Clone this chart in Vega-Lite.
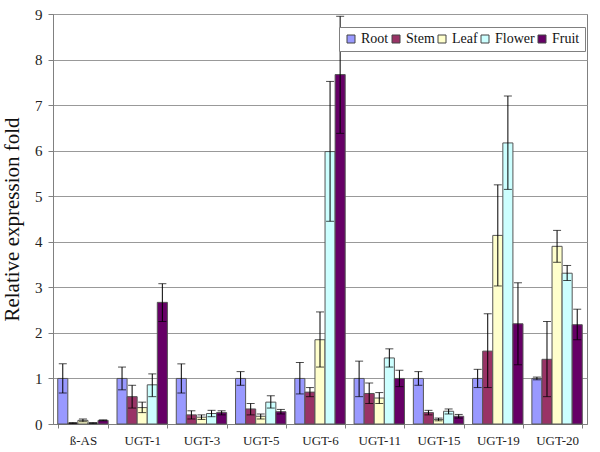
{
  "$schema": "https://vega.github.io/schema/vega-lite/v6.json",
  "width": 534,
  "height": 410,
  "autosize": "none",
  "padding": {"left": 53, "top": 14, "right": 13, "bottom": 28},
  "background": "white",
  "config": {
    "font": "Liberation Serif",
    "view": {"stroke": "#808080", "strokeWidth": 1},
    "axis": {"labelFont": "Liberation Serif", "titleFont": "Liberation Serif", "labelColor": "#222", "titleColor": "#111", "domainColor": "#808080", "tickColor": "#808080"},
    "legend": {"labelFont": "Liberation Serif", "titleFont": "Liberation Serif"}
  },
  "data": {
    "values": [
      {"gene": "ß-AS", "tissue": "Root", "value": 1.0, "lo": 0.68, "hi": 1.32},
      {"gene": "ß-AS", "tissue": "Stem", "value": 0.02, "lo": 0.01, "hi": 0.03},
      {"gene": "ß-AS", "tissue": "Leaf", "value": 0.08, "lo": 0.05, "hi": 0.11},
      {"gene": "ß-AS", "tissue": "Flower", "value": 0.02, "lo": 0.01, "hi": 0.03},
      {"gene": "ß-AS", "tissue": "Fruit", "value": 0.08, "lo": 0.07, "hi": 0.09},
      {"gene": "UGT-1", "tissue": "Root", "value": 1.0, "lo": 0.75, "hi": 1.25},
      {"gene": "UGT-1", "tissue": "Stem", "value": 0.6, "lo": 0.35, "hi": 0.85},
      {"gene": "UGT-1", "tissue": "Leaf", "value": 0.36, "lo": 0.25, "hi": 0.48},
      {"gene": "UGT-1", "tissue": "Flower", "value": 0.86, "lo": 0.6, "hi": 1.1},
      {"gene": "UGT-1", "tissue": "Fruit", "value": 2.67, "lo": 2.25, "hi": 3.08},
      {"gene": "UGT-3", "tissue": "Root", "value": 1.0, "lo": 0.68, "hi": 1.32},
      {"gene": "UGT-3", "tissue": "Stem", "value": 0.2, "lo": 0.11, "hi": 0.29},
      {"gene": "UGT-3", "tissue": "Leaf", "value": 0.15, "lo": 0.1, "hi": 0.2},
      {"gene": "UGT-3", "tissue": "Flower", "value": 0.23, "lo": 0.16, "hi": 0.3},
      {"gene": "UGT-3", "tissue": "Fruit", "value": 0.25, "lo": 0.2, "hi": 0.29},
      {"gene": "UGT-5", "tissue": "Root", "value": 1.0, "lo": 0.85, "hi": 1.15},
      {"gene": "UGT-5", "tissue": "Stem", "value": 0.33, "lo": 0.2, "hi": 0.45},
      {"gene": "UGT-5", "tissue": "Leaf", "value": 0.17, "lo": 0.11, "hi": 0.22},
      {"gene": "UGT-5", "tissue": "Flower", "value": 0.48, "lo": 0.35, "hi": 0.62},
      {"gene": "UGT-5", "tissue": "Fruit", "value": 0.27, "lo": 0.22, "hi": 0.32},
      {"gene": "UGT-6", "tissue": "Root", "value": 1.0, "lo": 0.66, "hi": 1.35},
      {"gene": "UGT-6", "tissue": "Stem", "value": 0.7, "lo": 0.6, "hi": 0.8},
      {"gene": "UGT-6", "tissue": "Leaf", "value": 1.85, "lo": 1.25, "hi": 2.46},
      {"gene": "UGT-6", "tissue": "Flower", "value": 5.98, "lo": 4.45, "hi": 7.52},
      {"gene": "UGT-6", "tissue": "Fruit", "value": 7.67, "lo": 6.38, "hi": 8.95},
      {"gene": "UGT-11", "tissue": "Root", "value": 1.0, "lo": 0.6, "hi": 1.38},
      {"gene": "UGT-11", "tissue": "Stem", "value": 0.67, "lo": 0.45, "hi": 0.9},
      {"gene": "UGT-11", "tissue": "Leaf", "value": 0.57, "lo": 0.45, "hi": 0.69},
      {"gene": "UGT-11", "tissue": "Flower", "value": 1.45, "lo": 1.25, "hi": 1.65},
      {"gene": "UGT-11", "tissue": "Fruit", "value": 1.0, "lo": 0.82, "hi": 1.18},
      {"gene": "UGT-15", "tissue": "Root", "value": 1.0, "lo": 0.85, "hi": 1.15},
      {"gene": "UGT-15", "tissue": "Stem", "value": 0.25, "lo": 0.2, "hi": 0.3},
      {"gene": "UGT-15", "tissue": "Leaf", "value": 0.1, "lo": 0.07, "hi": 0.13},
      {"gene": "UGT-15", "tissue": "Flower", "value": 0.28, "lo": 0.22, "hi": 0.33},
      {"gene": "UGT-15", "tissue": "Fruit", "value": 0.17, "lo": 0.13, "hi": 0.21},
      {"gene": "UGT-19", "tissue": "Root", "value": 1.0, "lo": 0.8, "hi": 1.2},
      {"gene": "UGT-19", "tissue": "Stem", "value": 1.6, "lo": 0.8, "hi": 2.42},
      {"gene": "UGT-19", "tissue": "Leaf", "value": 4.14, "lo": 3.03, "hi": 5.25},
      {"gene": "UGT-19", "tissue": "Flower", "value": 6.17, "lo": 5.15, "hi": 7.2},
      {"gene": "UGT-19", "tissue": "Fruit", "value": 2.2, "lo": 1.3, "hi": 3.1},
      {"gene": "UGT-20", "tissue": "Root", "value": 1.0, "lo": 0.97, "hi": 1.03},
      {"gene": "UGT-20", "tissue": "Stem", "value": 1.42, "lo": 0.6, "hi": 2.25},
      {"gene": "UGT-20", "tissue": "Leaf", "value": 3.9, "lo": 3.55, "hi": 4.25},
      {"gene": "UGT-20", "tissue": "Flower", "value": 3.31, "lo": 3.15, "hi": 3.48},
      {"gene": "UGT-20", "tissue": "Fruit", "value": 2.18, "lo": 1.85, "hi": 2.52}
    ]
  },
  "encoding": {
    "x": {
      "field": "gene", "type": "nominal",
      "sort": ["ß-AS", "UGT-1", "UGT-3", "UGT-5", "UGT-6", "UGT-11", "UGT-15", "UGT-19", "UGT-20"],
      "scale": {"paddingInner": 0.15, "paddingOuter": 0.08},
      "axis": {"title": null, "labelAngle": 0, "labelFontSize": 13, "labelPadding": 6, "tickBand": "extent", "tickSize": 4, "domainColor": "#808080"}
    },
    "xOffset": {"field": "tissue", "type": "nominal", "sort": ["Root", "Stem", "Leaf", "Flower", "Fruit"]}
  },
  "layer": [
    {
      "mark": {"type": "bar", "stroke": "#555555", "strokeWidth": 1},
      "encoding": {
        "y": {
          "field": "value", "type": "quantitative",
          "scale": {"domain": [0, 9], "nice": false},
          "axis": {"title": "Relative expression fold", "titleFontSize": 21, "titleFontWeight": "normal", "titlePadding": 12, "values": [0, 1, 2, 3, 4, 5, 6, 7, 8, 9], "labelFontSize": 15, "labelPadding": 6, "tickSize": 5, "gridColor": "#999999", "gridWidth": 1, "grid": true}
        },
        "color": {
          "field": "tissue", "type": "nominal",
          "sort": ["Root", "Stem", "Leaf", "Flower", "Fruit"],
          "scale": {"domain": ["Root", "Stem", "Leaf", "Flower", "Fruit"], "range": ["#9999FF", "#993366", "#FFFFCC", "#CCFFFF", "#660066"]},
          "legend": {
            "title": null, "orient": "none", "legendX": 286, "legendY": 13,
            "direction": "horizontal", "columns": 5, "gridAlign": "none", "symbolType": "square", "symbolSize": 64,
            "symbolStrokeColor": "#444444", "symbolStrokeWidth": 1,
            "labelFont": "Liberation Serif", "labelFontSize": 14, "labelColor": "#111",
            "columnPadding": 0, "labelOffset": 3, "padding": 5, "labelLimit": 80,
            "strokeColor": "#808080", "fillColor": "white"
          }
        }
      }
    },
    {
      "mark": {"type": "rule", "color": "black", "strokeWidth": 1},
      "encoding": {
        "y": {"field": "lo", "type": "quantitative"},
        "y2": {"field": "hi"}
      }
    },
    {
      "mark": {"type": "tick", "color": "black", "thickness": 1, "size": 8},
      "encoding": {"y": {"field": "lo", "type": "quantitative"}}
    },
    {
      "mark": {"type": "tick", "color": "black", "thickness": 1, "size": 8},
      "encoding": {"y": {"field": "hi", "type": "quantitative"}}
    }
  ]
}
